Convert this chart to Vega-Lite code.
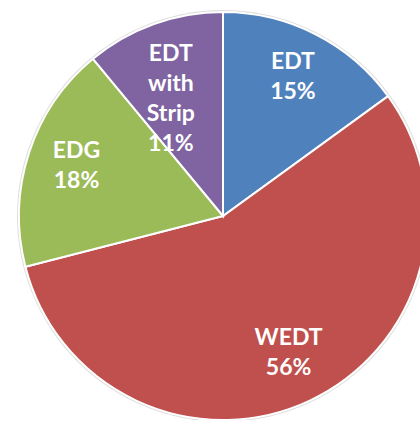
{
  "$schema": "https://vega.github.io/schema/vega-lite/v6.json",
  "width": 408,
  "height": 408,
  "autosize": {"type": "none"},
  "padding": {"left": 19, "top": 12, "right": 0, "bottom": 0},
  "background": "white",
  "view": {"stroke": null},
  "datasets": {
    "shares": [
      {"idx": 1, "category": "EDT", "share": 15, "label": "EDT\n15%"},
      {"idx": 2, "category": "WEDT", "share": 56, "label": "WEDT\n56%"},
      {"idx": 3, "category": "EDG", "share": 18, "label": "EDG\n18%"},
      {"idx": 4, "category": "EDT with Strip", "share": 11, "label": "EDT\nwith\nStrip\n11%"}
    ],
    "whole": [{"total": 100}]
  },
  "layer": [
    {
      "data": {"name": "whole"},
      "mark": {"type": "arc", "outerRadius": 206, "fill": "#dedede"},
      "encoding": {
        "theta": {"field": "total", "type": "quantitative"}
      }
    },
    {
      "data": {"name": "shares"},
      "mark": {"type": "arc", "outerRadius": 204, "stroke": "white", "strokeWidth": 2},
      "encoding": {
        "theta": {"field": "share", "type": "quantitative", "stack": true},
        "order": {"field": "idx", "type": "quantitative"},
        "color": {
          "field": "category",
          "type": "nominal",
          "scale": {
            "domain": ["EDT", "WEDT", "EDG", "EDT with Strip"],
            "range": ["#4F81BD", "#C0504D", "#9BBB59", "#8064A2"]
          },
          "legend": null
        }
      }
    },
    {
      "data": {"name": "shares"},
      "mark": {
        "type": "text",
        "radius": 154,
        "dy": -17,
        "font": "Lato",
        "fontSize": 23,
        "fontWeight": "bold",
        "lineHeight": 30,
        "lineBreak": "\n",
        "align": "center",
        "baseline": "middle",
        "fill": "white"
      },
      "encoding": {
        "theta": {"field": "share", "type": "quantitative", "stack": true},
        "order": {"field": "idx", "type": "quantitative"},
        "text": {"field": "label"}
      }
    }
  ]
}
